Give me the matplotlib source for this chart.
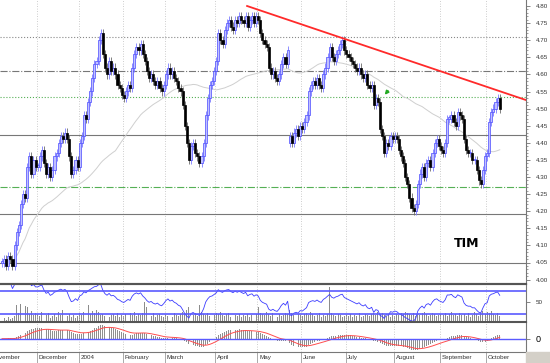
import numpy as np
import pandas as pd
import matplotlib
matplotlib.use('Agg')
import matplotlib.pyplot as plt
import matplotlib.transforms as mtransforms
from matplotlib.patches import Rectangle

plt.rcParams['font.family'] = ['Liberation Sans', 'DejaVu Sans']

# daily closes, one list per month
nov = [4.05, 4.06, 4.04, 4.07, 4.06, 4.04, 4.10, 4.14, 4.16, 4.22, 4.25, 4.24, 4.33, 4.36, 4.31, 4.35, 4.33]
dec = [4.33, 4.36, 4.38, 4.34, 4.31, 4.33, 4.30, 4.32, 4.36, 4.37, 4.40, 4.42, 4.41, 4.43, 4.41, 4.36, 4.31, 4.32, 4.35, 4.33]
jan = [4.40, 4.42, 4.48, 4.47, 4.52, 4.55, 4.59, 4.63, 4.64, 4.70, 4.72, 4.66, 4.62, 4.60, 4.64, 4.61, 4.62, 4.60, 4.57, 4.56, 4.54]
feb = [4.53, 4.55, 4.57, 4.56, 4.62, 4.66, 4.68, 4.67, 4.69, 4.66, 4.64, 4.61, 4.59, 4.60, 4.58, 4.57, 4.58, 4.56, 4.55, 4.57]
mar = [4.60, 4.62, 4.60, 4.61, 4.59, 4.58, 4.56, 4.55, 4.51, 4.45, 4.40, 4.35, 4.39, 4.40, 4.37, 4.36, 4.34, 4.36, 4.40, 4.48, 4.53, 4.57, 4.58, 4.61]
apr = [4.64, 4.72, 4.70, 4.69, 4.73, 4.75, 4.76, 4.74, 4.73, 4.76, 4.75, 4.77, 4.76, 4.75, 4.77, 4.74, 4.76, 4.77, 4.75, 4.77]
may = [4.76, 4.72, 4.70, 4.69, 4.68, 4.62, 4.60, 4.61, 4.59, 4.58, 4.60, 4.63, 4.65, 4.63, 4.67, 4.42, 4.40, 4.43, 4.44, 4.42, 4.45]
jun = [4.44, 4.46, 4.48, 4.55, 4.57, 4.58, 4.57, 4.59, 4.57, 4.56, 4.60, 4.62, 4.65, 4.68, 4.65, 4.64, 4.66, 4.67, 4.69, 4.70, 4.67]
jul = [4.66, 4.65, 4.64, 4.63, 4.62, 4.61, 4.62, 4.60, 4.59, 4.60, 4.57, 4.56, 4.57, 4.51, 4.53, 4.52, 4.44, 4.42, 4.37, 4.40, 4.39, 4.42, 4.41]
aug = [4.42, 4.41, 4.38, 4.36, 4.34, 4.30, 4.28, 4.24, 4.21, 4.20, 4.22, 4.28, 4.31, 4.33, 4.30, 4.34, 4.35, 4.33, 4.37, 4.40, 4.41, 4.39]
sep = [4.38, 4.37, 4.40, 4.47, 4.47, 4.48, 4.46, 4.45, 4.49, 4.48, 4.47, 4.41, 4.38, 4.37, 4.37, 4.35, 4.35, 4.32, 4.29, 4.28, 4.32, 4.36]
oct_ = [4.37, 4.46, 4.49, 4.50, 4.52, 4.53, 4.50]

# volume (relative units)
vol_nov = [3, 4, 2, 5, 3, 4, 6, 17, 9, 18, 12, 16, 15, 8, 11, 7, 9]
vol_dec = [8, 6, 10, 5, 7, 9, 4, 6, 8, 5, 10, 7, 12, 9, 6, 8, 5, 7, 4, 6]
vol_jan = [9, 7, 10, 6, 17, 8, 11, 9, 12, 10, 7, 8, 6, 9, 5, 7, 8, 6, 9, 5, 7]
vol_feb = [6, 8, 5, 9, 7, 10, 6, 8, 7, 9, 20, 15, 8, 6, 9, 5, 7, 8, 6, 5]
vol_mar = [7, 6, 8, 5, 9, 7, 6, 8, 10, 9, 12, 15, 8, 7, 9, 6, 17, 10, 8, 7, 9, 6, 8, 7]
vol_apr = [9, 8, 10, 7, 6, 8, 9, 5, 11, 7, 6, 8, 5, 7, 6, 8, 5, 7, 6, 8]
vol_may = [15, 9, 8, 7, 10, 8, 6, 9, 7, 5, 8, 6, 7, 9, 8, 12, 9, 7, 6, 8, 7]
vol_jun = [6, 8, 9, 7, 10, 8, 6, 7, 9, 5, 7, 6, 8, 35, 9, 7, 6, 8, 7, 5, 6]
vol_jul = [7, 6, 8, 5, 7, 6, 9, 5, 6, 8, 7, 6, 8, 9, 7, 10, 8, 9, 7, 6, 8, 5, 7]
vol_aug = [6, 8, 7, 9, 8, 10, 9, 8, 7, 9, 6, 8, 7, 9, 10, 8, 6, 7, 9, 8, 6, 7]
vol_sep = [8, 7, 9, 6, 8, 10, 7, 8, 6, 9, 7, 8, 6, 9, 5, 7, 10, 8, 6, 9, 11, 8]
vol_oct = [10, 9, 11, 8, 7, 9, 6]

month_names = ['November', 'December', '2004', 'February', 'March', 'April',
               'May', 'June', 'July', 'August', 'September', 'October']
month_closes = [nov, dec, jan, feb, mar, apr, may, jun, jul, aug, sep, oct_]

# support / resistance lines and the trend line
levels = [4.71, 4.61, 4.533, 4.422, 4.27, 4.191, 4.05]
trend_x = [116.7, 249.5]
trend_y = [4.80, 4.525]

close = np.concatenate(month_closes)
vol = np.concatenate([vol_nov, vol_dec, vol_jan, vol_feb, vol_mar, vol_apr,
                      vol_may, vol_jun, vol_jul, vol_aug, vol_sep, vol_oct])
n = len(close)
idx = np.arange(n)
starts = np.cumsum([0] + [len(m) for m in month_closes[:-1]])

opn = np.r_[close[0], close[:-1]]
opn[137] = 4.40   # gap down in May
hi = np.maximum(opn, close) + 0.012
lo = np.minimum(opn, close) - 0.012

s = pd.Series(close)
ma = s.rolling(55, min_periods=1).mean()
d = s.diff()
gain = d.clip(lower=0).ewm(alpha=1/14, adjust=False).mean()
loss = (-d.clip(upper=0)).ewm(alpha=1/14, adjust=False).mean()
rsi = 100 - 100 / (1 + gain / loss)
macd = s.ewm(span=12, adjust=False).mean() - s.ewm(span=26, adjust=False).mean()
signal = macd.ewm(span=9, adjust=False).mean()

W, H = 550, 363
fig = plt.figure(figsize=(5.5, 3.63), dpi=100)
def box(top, bottom):
    return [0, (H - bottom) / H, 526 / W, (bottom - top) / H]
ax = fig.add_axes(box(0, 284))
ax2 = fig.add_axes(box(284, 322), sharex=ax)
ax3 = fig.add_axes(box(322, 352), sharex=ax)

# --- price panel
for b in starts[1:]:
    for a in (ax, ax2, ax3):
        a.axvline(b - 0.4, color='#bdbdbd', lw=0.6, ls=(0, (1, 2)), zorder=0)

lv_styles = [(':', '#888888'), ('-.', '#777777'), (':', '#55b055'), ('-', '#777777'),
             ('-.', '#55b055'), ('-', '#777777'), ('-', '#777777')]
for lv, (ls, c) in zip(levels, lv_styles):
    ax.axhline(lv, color=c, ls=ls, lw=0.8, zorder=1)

ax.plot(idx, ma, color='#cfcfcf', lw=0.7, zorder=2)

up = close >= opn
body = np.maximum(np.abs(close - opn), 0.004)
ax.vlines(idx[up], lo[up], hi[up], colors='#7b7bff', lw=0.6, zorder=3)
ax.vlines(idx[~up], lo[~up], hi[~up], colors='#6a6a6a', lw=0.6, zorder=3)
ax.bar(idx[up], body[up], bottom=opn[up], width=1.0, facecolor='#c0c0ff',
       edgecolor='#4a4aff', lw=0.5, zorder=4)
ax.bar(idx[~up], body[~up], bottom=close[~up], width=1.0, facecolor='black',
       edgecolor='black', lw=0.5, zorder=4)

ax.plot(trend_x, trend_y, color='#ff2a2a', lw=1.3, zorder=5)
ax.annotate('', xy=(181.4, 4.534), xytext=(184.6, 4.558),
            arrowprops=dict(arrowstyle='-|>', color='#22aa22', lw=1.2, mutation_scale=5))
ax.text(221, 4.107, 'TIM', fontsize=9, fontweight='bold', ha='center', va='center',
        family='DejaVu Sans', color='black')

ax.set_xlim(-0.95, 249.5)
ax.set_ylim(4.80 - 278 / 342, 4.80 + 6 / 342)
ax.yaxis.tick_right()
ax.set_yticks(np.arange(4.00, 4.801, 0.05))
ax.set_yticklabels(['%.2f' % v for v in np.arange(4.00, 4.801, 0.05)])
ax.set_yticks(np.arange(4.00, 4.801, 0.01), minor=True)
ax.tick_params(axis='y', which='major', length=3, width=0.5, color='#555555',
               labelsize=4.5, labelcolor='#333333', pad=4)
ax.tick_params(axis='y', which='minor', length=1.5, width=0.4, color='#555555')
ax.tick_params(axis='x', which='both', bottom=False, labelbottom=False)

# --- RSI + volume panel
axv = ax2.twinx()
axv.bar(idx, vol, width=0.45, color='#8c8c8c')
axv.set_ylim(0, 38)
axv.set_yticks([])
for sp in axv.spines.values():
    sp.set_visible(False)
ax2.set_zorder(axv.get_zorder() + 1)
ax2.patch.set_visible(False)
ax2.plot(idx, rsi, color='#3c3cff', lw=0.6)
ax2.axhline(70, color='#5a5aff', lw=1.2)
ax2.axhline(30, color='#5a5aff', lw=1.2)
ax2.set_ylim(16, 82)
ax2.yaxis.tick_right()
ax2.set_yticks([50])
ax2.set_yticklabels(['50'])
ax2.tick_params(axis='y', length=3, width=0.5, color='#555555', labelsize=4.5,
                labelcolor='#333333', pad=4)
ax2.tick_params(axis='x', which='both', bottom=False, labelbottom=False)

# --- MACD panel
ax3.bar(idx, macd, width=0.45, color='#8f8f8f')
ax3.plot(idx, signal, color='#ff4d4d', lw=0.7)
ax3.axhline(0, color='#5a5aff', lw=1.0)
a = np.abs(macd).max()
ax3.set_ylim(-1.0 * a, 1.25 * a)
ax3.yaxis.tick_right()
ax3.set_yticks([0])
ax3.set_yticklabels(['0'])
ax3.tick_params(axis='y', length=3, width=0.5, color='#555555', labelsize=6.5,
                labelcolor='black', pad=4)
ax3.set_xticks(starts[1:] - 0.4)
ax3.tick_params(axis='x', length=8, width=0.5, color='#888888', labelbottom=False)
trans = mtransforms.blended_transform_factory(ax3.transData, ax3.transAxes)
label_x = np.r_[-4.8, starts[1:] + 0.4]
for x, name in zip(label_x, month_names):
    ax3.text(x, -0.19, name, transform=trans, fontsize=4.5, ha='left', va='center',
             color='#333333', clip_on=False)

# --- frames
for a_ in (ax, ax2, ax3):
    a_.spines['left'].set_visible(False)
    a_.spines['right'].set_color('#777777')
    a_.spines['right'].set_linewidth(0.8)
ax.spines['top'].set_visible(False)
ax.spines['bottom'].set_color('#555555')
ax.spines['bottom'].set_linewidth(1.5)
ax2.spines['top'].set_color('#555555')
ax2.spines['top'].set_linewidth(1.5)
ax2.spines['bottom'].set_color('#555555')
ax2.spines['bottom'].set_linewidth(1.5)
ax3.spines['top'].set_visible(False)
ax3.spines['bottom'].set_color('#777777')
ax3.spines['bottom'].set_linewidth(0.8)

fig.patches.append(Rectangle((526 / W, 0), 24 / W, 11 / H, transform=fig.transFigure,
                             color='#d4d0c8', zorder=0))

fig.savefig('out.png', dpi=100)
